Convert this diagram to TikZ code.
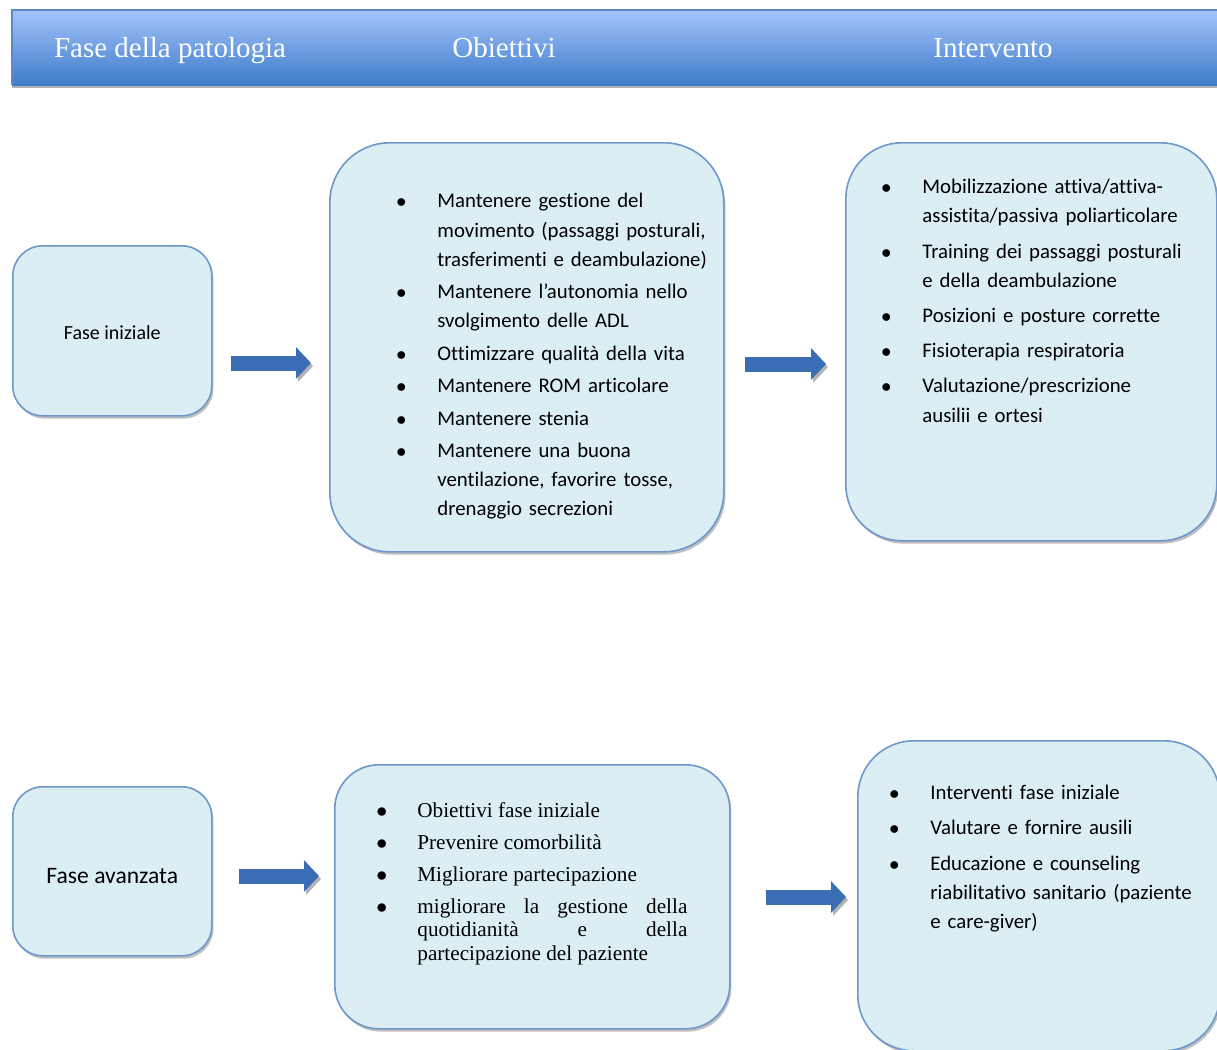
\documentclass[tikz,border=0pt]{standalone}
\usepackage{fontspec}
\setmainfont{Carlito}[Ligatures=NoCommon]
\newfontfamily\hdfont{Liberation Serif}
\usepackage{tikz}
\usetikzlibrary{positioning,shadows,arrows.meta}

\definecolor{boxfill}{HTML}{DAEEF3}
\definecolor{boxline}{HTML}{6F97CB}
\definecolor{hdtop}{HTML}{A5C3FA}
\definecolor{hdbot}{HTML}{3D7CCA}
\definecolor{hdline}{HTML}{5D89C8}
\definecolor{arrblue}{HTML}{3B6DB5}

\newlength{\bulind}\setlength{\bulind}{20.5pt}
\newcommand{\bitem}[1]{\par\noindent\hangindent=\bulind\hangafter=1\makebox[\bulind][l]{$\bullet$}#1\par}

\begin{document}
\begin{tikzpicture}[x=0.5pt,y=-0.5pt,
  panel/.style={draw=boxline, line width=0.8pt, fill=boxfill, anchor=north west, inner sep=0pt,
    drop shadow={shadow xshift=0.8pt, shadow yshift=-1.4pt, opacity=.45, fill=black!55}},
  listtxt/.style={anchor=north west, inner sep=0pt},
  calfont/.style={font=\fontsize{10.4pt}{14.6pt}\selectfont\setlength{\parskip}{#1}},
  hdtext/.style={text=white, anchor=base, font=\hdfont\fontsize{14.5pt}{16pt}\selectfont},
  fatarrow/.style={draw=arrblue, line width=7.5pt, -{Triangle[length=7.5pt,width=15.5pt]},
    preaction={draw=black!30, -{Triangle[length=7.5pt,width=15.5pt]}, transform canvas={xshift=1pt,yshift=-1.5pt}}}]
  \useasboundingbox (0,0) rectangle (1217,1050);

  \shade[top color=hdtop, bottom color=hdbot,
    drop shadow={shadow xshift=0pt, shadow yshift=-1.5pt, opacity=.5, fill=black!60}] (12,10) rectangle (1240,85);
  \draw[hdline, line width=0.8pt] (12,85) -- (12,10) -- (1240,10);
  \foreach \x/\t/\n in {170/Fase della patologia/hfase, 504/Obiettivi/hobi, 993/Intervento/hint}
    \node[hdtext] (\n) at (\x,57) {\t};

  \node[panel, minimum width=99.5pt, minimum height=85pt, rounded corners=15pt,
    font=\fontsize{10pt}{12pt}\selectfont] (fi) at (12,245) {\raisebox{-1pt}[\height][\depth]{Fase iniziale}};
  \node[panel, minimum width=197pt, minimum height=204.5pt, rounded corners=30pt] (ob1) at (329,142) {};
  \node[panel, minimum width=185.5pt, minimum height=199pt, rounded corners=28pt] (in1) at (845,142) {};
  \node[panel, minimum width=99.5pt, minimum height=84.5pt, rounded corners=15pt,
    font=\fontsize{11.8pt}{14pt}\selectfont] (fa) at (12,786) {\raisebox{-2.5pt}[\height][\depth]{Fase avanzata}};
  \node[panel, minimum width=197.5pt, minimum height=132pt, rounded corners=22pt] (ob2) at (334,764) {};
  \node[panel, minimum width=181pt, minimum height=155pt, rounded corners=28pt] (in2) at (857,740) {};

  \node[listtxt, calfont=1.6pt, text width=165pt] (ob1list) at ([shift={(67,33)}]ob1.north west) {%
    \bitem{Mantenere gestione del\newline movimento (passaggi posturali,\newline trasferimenti e deambulazione)}
    \bitem{Mantenere l’autonomia nello\newline svolgimento delle ADL}
    \bitem{Ottimizzare qualità della vita}
    \bitem{Mantenere ROM articolare}
    \bitem{Mantenere stenia}
    \bitem{Mantenere una buona\newline ventilazione, favorire tosse,\newline drenaggio secrezioni}};
  \node[listtxt, calfont=3pt, text width=160pt] (in1list) at ([shift={(36,16)}]in1.north west) {%
    \bitem{Mobilizzazione attiva/attiva-\newline assistita/passiva poliarticolare}
    \bitem{Training dei passaggi posturali\newline e della deambulazione}
    \bitem{Posizioni e posture corrette}
    \bitem{Fisioterapia respiratoria}
    \bitem{Valutazione/prescrizione\newline ausilii e ortesi}};
  \node[listtxt, align=justify, text width=155.5pt,
    font=\hdfont\fontsize{10.6pt}{11.75pt}\selectfont\setlength{\parskip}{4.25pt}] (ob2list) at ([shift={(42,21)}]ob2.north west) {%
    \bitem{Obiettivi fase iniziale}
    \bitem{Prevenire comorbilità}
    \bitem{Migliorare partecipazione}
    \bitem{migliorare la gestione della\linebreak quotidianità e della\linebreak partecipazione del paziente}};
  \node[listtxt, calfont=3pt, text width=155pt] (in2list) at ([shift={(32,24)}]in2.north west) {%
    \bitem{Interventi fase iniziale}
    \bitem{Valutare e fornire ausili}
    \bitem{Educazione e counseling\newline riabilitativo sanitario (paziente\newline e care-giver)}};

  \draw[fatarrow, shorten <=9pt, shorten >=9pt] (fi.east |- 0,363) -- (ob1.west |- 0,363);
  \draw[fatarrow, shorten <=10pt, shorten >=9.5pt] (ob1.east |- 0,364) -- (in1.west |- 0,364);
  \draw[fatarrow, shorten <=13pt, shorten >=7.5pt] (fa.east |- 0,876) -- (ob2.west |- 0,876);
  \draw[fatarrow, shorten <=17.5pt, shorten >=5.5pt] (ob2.east |- 0,897) -- (in2.west |- 0,897);
\end{tikzpicture}
\end{document}
